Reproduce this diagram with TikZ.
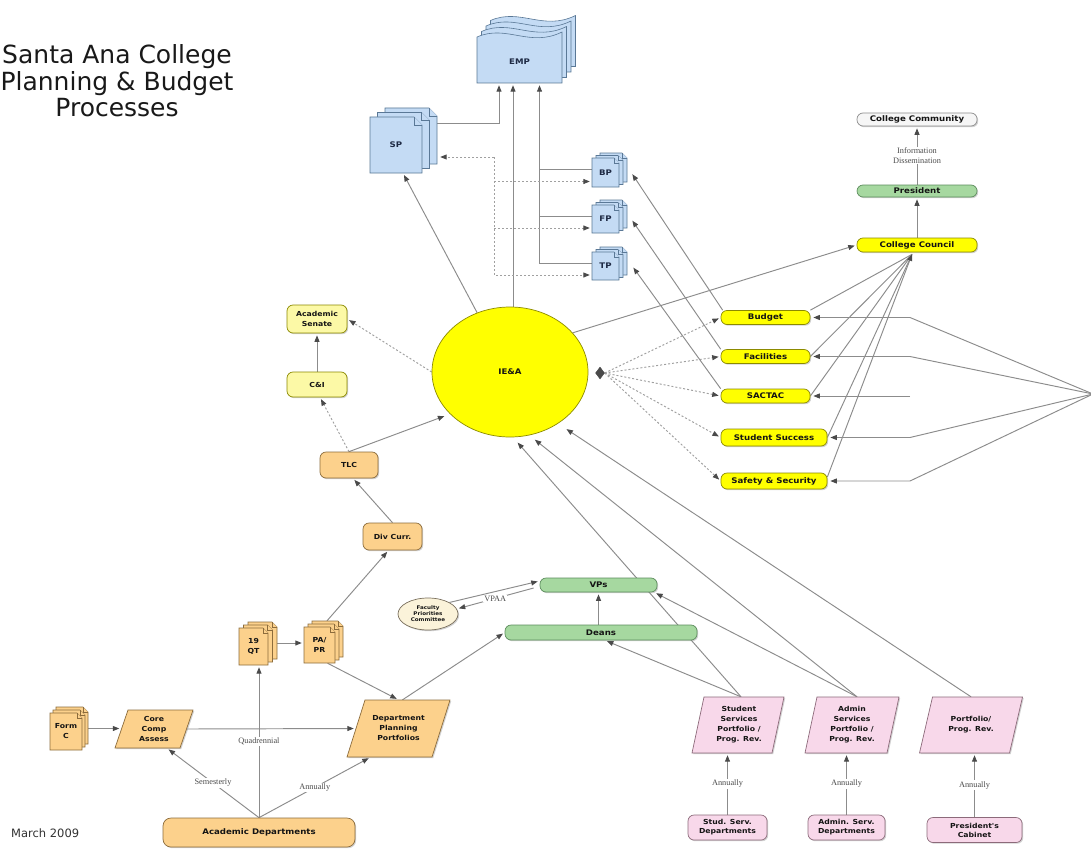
\documentclass[tikz,border=0pt]{standalone}
\usepackage{fontspec}
\setmainfont{DejaVu Sans}
\newfontfamily\boxfont{DejaVu Sans}[FakeStretch=1.12]
\newfontfamily\lblfont{Liberation Serif}
\usetikzlibrary{arrows.meta,shapes.geometric,shadows,calc}
\pgfdeclarelayer{back}
\pgfdeclarelayer{lines}
\pgfsetlayers{back,lines,main}

\definecolor{linec}{HTML}{8C8C8C}
\definecolor{dotc}{HTML}{A0A0A0}
\definecolor{tipc}{HTML}{4A4A4A}
\definecolor{pagefill}{HTML}{C4DBF4}
\definecolor{pageline}{HTML}{5A7896}
\definecolor{navy}{HTML}{1E2A44}
\definecolor{ylw}{HTML}{FFFF00}
\definecolor{ylwline}{HTML}{8C8A00}
\definecolor{lylw}{HTML}{FCF9A6}
\definecolor{org}{HTML}{FCD18C}
\definecolor{orgline}{HTML}{8C6C3C}
\definecolor{grn}{HTML}{A6D8A0}
\definecolor{grnline}{HTML}{5C8C5C}
\definecolor{pnk}{HTML}{F8D8EA}
\definecolor{pnkline}{HTML}{8C6A7A}
\definecolor{crm}{HTML}{FBF3DA}
\definecolor{crmline}{HTML}{7A705E}
\definecolor{wht}{HTML}{F6F6F6}
\definecolor{txt}{HTML}{141414}

% one page with folded corner: x0 ytop x1 ybottom corner style
\newcommand\docpage[6]{%
  \filldraw[#6] (#1,#2) -- ({#3-#5},#2) -- (#3,{#2+#5}) -- (#3,#4) -- (#1,#4) -- cycle;
  \draw[#6] ({#3-#5},#2) -- ({#3-#5},{#2+#5}) -- (#3,{#2+#5});}
% stack: x0 ytop x1 ybottom corner nback dx dy style
\newcommand\docstack[9]{%
  \foreach \k in {#6,...,0}{%
    \pgfmathsetmacro\pxa{#1+#7*\k}\pgfmathsetmacro\pya{#2-#8*\k}%
    \pgfmathsetmacro\pxb{#3+#7*\k}\pgfmathsetmacro\pyb{#4-#8*\k}%
    \docpage{\pxa}{\pya}{\pxb}{\pyb}{#5}{#9}}}
% wavy page: x0 ytop x1 ybottom
\newcommand\wavepage[4]{%
  \pgfmathsetmacro\wwd{#3-#1}%
  \filldraw[bpage] (#1,#4) -- (#1,#2) .. controls ({#1+0.35*\wwd},{#2-13}) and ({#1+0.62*\wwd},{#2+11}) .. (#3,{#2-5}) -- (#3,#4) -- cycle;}
% parallelogram: cx cy w h slant style
\newcommand\paragram[6]{%
  \filldraw[#6] ({#1-#3/2+#5/2},{#2-#4/2}) -- ({#1+#3/2+#5/2},{#2-#4/2}) -- ({#1+#3/2-#5/2},{#2+#4/2}) -- ({#1-#3/2-#5/2},{#2+#4/2}) -- cycle;}

\begin{document}
\begin{tikzpicture}[x=1pt,y=-1pt,
  shad/.style={drop shadow={shadow xshift=1.2pt,shadow yshift=-1.2pt,opacity=0.35}},
  fnorm/.style={font=\boxfont\bfseries\fontsize{7.7}{8.8}\selectfont},
  fmid/.style={font=\boxfont\bfseries\fontsize{6.9}{10}\selectfont},
  ftiny/.style={font=\boxfont\bfseries\fontsize{5}{6}\selectfont},
  rbox/.style={draw, rounded corners=6pt, line width=0.7pt, text=txt, inner sep=1pt, align=center, shad, fnorm},
  ybox/.style={rbox, fill=ylw, draw=ylwline},
  lybox/.style={rbox, fill=lylw, draw=ylwline, fmid},
  obox/.style={rbox, fill=org, draw=orgline},
  gbox/.style={rbox, fill=grn, draw=grnline},
  pbox/.style={rbox, fill=pnk, draw=pnkline, font=\boxfont\bfseries\fontsize{6.9}{9}\selectfont},
  wbox/.style={rbox, fill=wht, draw=black!45},
  bpage/.style={fill=pagefill, draw=pageline, line width=0.6pt},
  opage/.style={fill=org, draw=orgline, line width=0.6pt},
  plabel/.style={inner sep=0, text=navy, fnorm, align=center},
  olabel/.style={inner sep=0, text=txt, fmid, align=center},
  ppara/.style={fill=pnk, draw=pnkline, line width=0.7pt, shad},
  opara/.style={fill=org, draw=orgline, line width=0.7pt, shad},
  ptxt/.style={inner sep=0, align=center, text=txt, fmid},
  conn/.style={draw=linec, line width=0.95pt},
  arr/.style={conn, -{Triangle[length=6.5pt,width=5pt,color=tipc]}, shorten >=2pt},
  darr/.style={arr, draw=dotc, dash pattern=on 2pt off 2pt},
  lbl/.style={font=\lblfont\fontsize{8.3}{10}\selectfont, text=black!70, fill=white, inner sep=1pt, align=center}]

\useasboundingbox (0,0) rectangle (1091,848);
\begin{pgfonlayer}{back}\fill[white] (0,0) rectangle (1091,848);\end{pgfonlayer}

% title and date
\node[font=\fontsize{25}{26.5}\selectfont, text=black!90, align=center, inner sep=0] (title) at (117,81) {Santa Ana College\\Planning \& Budget\\Processes};
\node[anchor=west, font=\fontsize{11.5}{13}\selectfont, text=black!80, inner sep=0] (date) at (11,833) {March 2009};

% EMP
\foreach \k in {3,...,0}{%
  \pgfmathsetmacro\pxa{477+4.5*\k}\pgfmathsetmacro\pya{37-5.5*\k}%
  \pgfmathsetmacro\pxb{562+4.5*\k}\pgfmathsetmacro\pyb{83-5.5*\k}%
  \wavepage{\pxa}{\pya}{\pxb}{\pyb}}
\node[plabel, minimum width=85pt, minimum height=42pt] (emp) at (519.5,62) {EMP};

% page stacks
\docstack{370}{117}{422}{173}{8}{2}{7.5}{4.5}{bpage}
\node[plabel, minimum width=52pt, minimum height=56pt] (sp) at (396,145) {SP};
\docstack{592}{158}{619}{187}{5}{2}{4}{2.5}{bpage}
\node[plabel, minimum width=27pt, minimum height=29pt] (bp) at (605.5,172.5) {BP};
\docstack{592}{205}{619}{233}{5}{2}{4}{2.5}{bpage}
\node[plabel, minimum width=27pt, minimum height=28pt] (fp) at (605.5,219) {FP};
\docstack{592}{252}{619}{280}{5}{2}{4}{2.5}{bpage}
\node[plabel, minimum width=27pt, minimum height=28pt] (tp) at (605.5,266) {TP};
\docstack{239}{628}{268}{665}{5}{2}{4.5}{3}{opage}
\node[olabel, minimum width=29pt, minimum height=37pt] (qt) at (253.5,646.5) {19\\QT};
\docstack{304}{627}{335}{663}{5}{2}{4}{3}{opage}
\node[olabel, minimum width=31pt, minimum height=36pt] (papr) at (319.5,645) {PA/\\PR};
\docstack{50}{713}{82}{750}{5}{2}{3}{3}{opage}
\node[olabel, minimum width=32pt, minimum height=37pt] (formc) at (66,731.5) {Form\\C};

% parallelograms
\paragram{154}{729}{65}{38}{13}{opara}
\node[ptxt, minimum width=65pt, minimum height=38pt] (core) at (154,729) {Core\\Comp\\Assess};
\paragram{398.5}{728.5}{85}{57}{18}{opara}
\node[ptxt, minimum width=85pt, minimum height=57pt] (dept) at (398.5,728.5) {Department\\Planning\\Portfolios};
\paragram{738}{725}{80}{56}{12}{ppara}
\node[ptxt, minimum width=80pt, minimum height=56pt] (ssp) at (739,725) {Student\\Services\\Portfolio /\\Prog. Rev.};
\paragram{852}{725}{82}{56}{12}{ppara}
\node[ptxt, minimum width=82pt, minimum height=56pt] (asp) at (852,725) {Admin\\Services\\Portfolio /\\Prog. Rev.};
\paragram{971}{725}{90}{56}{13}{ppara}
\node[ptxt, minimum width=90pt, minimum height=56pt] (ppr) at (971,725) {Portfolio/\\Prog. Rev.};

% rounded boxes
\node[obox, rounded corners=8pt, minimum width=192pt, minimum height=29pt] (acad) at (259,832.5) {Academic Departments};
\node[pbox, minimum width=79pt, minimum height=25pt] (ssd) at (727.5,827.5) {Stud. Serv.\\Departments};
\node[pbox, minimum width=77pt, minimum height=25pt] (asd) at (846.5,827.5) {Admin. Serv.\\Departments};
\node[pbox, minimum width=95pt, minimum height=25pt] (pc) at (974.5,830) {President's\\Cabinet};

\node[obox, fmid, minimum width=58pt, minimum height=26pt] (tlc) at (349,465) {TLC};
\node[obox, fmid, minimum width=59pt, minimum height=27pt] (div) at (392.5,536.5) {Div Curr.};
\node[lybox, minimum width=60pt, minimum height=28pt] (senate) at (317,319) {Academic\\Senate};
\node[lybox, minimum width=60pt, minimum height=25pt] (ci) at (317,384.5) {C\&I};

\node[gbox, minimum width=117pt, minimum height=14pt] (vps) at (598.5,585) {VPs};
\node[gbox, minimum width=192pt, minimum height=15pt] (deans) at (601,632.5) {Deans};
\node[ellipse, draw=crmline, fill=crm, line width=0.7pt, shad, ftiny, text=txt, align=center, inner sep=0, minimum width=60pt, minimum height=32pt] (fpc) at (428,614) {Faculty\\Priorities\\Committee};

\node[ybox, minimum width=89pt, minimum height=14pt] (budget) at (765.5,317.5) {Budget};
\node[ybox, minimum width=89pt, minimum height=14pt] (fac) at (765.5,356.5) {Facilities};
\node[ybox, minimum width=89pt, minimum height=14pt] (sactac) at (765.5,396) {SACTAC};
\node[ybox, minimum width=106pt, minimum height=17pt] (success) at (774,437.5) {Student Success};
\node[ybox, minimum width=106pt, minimum height=16pt] (safety) at (774,481) {Safety \& Security};

\node[ybox, minimum width=120pt, minimum height=14pt] (council) at (917,245) {College Council};
\node[gbox, minimum width=120pt, minimum height=12pt] (pres) at (917,191) {President};
\node[wbox, minimum width=120pt, minimum height=13pt] (comm) at (917,119.5) {College Community};

\node[ellipse, fill=ylw, draw=ylwline, line width=0.7pt, fnorm, text=txt, inner sep=0, minimum width=156pt, minimum height=130pt] (ieaa) at (510,372) {IE\&A};
\node[diamond, fill=tipc, draw=tipc, inner sep=0, minimum width=9pt, minimum height=12pt] (agg) at (600,373) {};

% connectors
\begin{pgfonlayer}{lines}
\coordinate (e1) at ([xshift=-20.5pt]emp.south);
\coordinate (e2) at ([xshift=-6.5pt]emp.south);
\coordinate (e3) at ([xshift=20pt]emp.south);
\draw[arr] ($(sp.north east)+(15,7)$) -| (e1);
\draw[arr] (e2 |- ieaa.north) -- (e2);
\coordinate (bps) at ([yshift=3pt]bp.west);
\coordinate (fps) at ([yshift=3pt]fp.west);
\coordinate (tps) at ([yshift=3pt]tp.west);
\draw[arr] (tps) -| (e3);
\draw[conn] (bps) -- (bps -| e3);
\draw[conn] (fps) -- (fps -| e3);

\coordinate (spd) at ($(sp.east)+(16,12)$);
\coordinate (dtr) at ($(spd)+(56,0)$);
\coordinate (bpd) at ([yshift=-9pt]bp.west);
\coordinate (fpd) at ([yshift=-9pt]fp.west);
\coordinate (tpd) at ([yshift=-9pt]tp.west);
\draw[darr] (dtr) -- (spd);
\draw[darr] (dtr) |- (tpd);
\draw[darr] (dtr |- bpd) -- (bpd);
\draw[darr] (dtr |- fpd) -- (fpd);

\draw[arr] (ieaa.119) -- ([xshift=7pt]sp.south);
\draw[arr] ([xshift=2pt]budget.north west) -- ([xshift=12pt]bp.east);
\draw[arr] (fac.north west) -- ([xshift=12pt]fp.east);
\draw[arr] (sactac.north west) -- ([xshift=13pt]tp.east);
\draw[arr] (ieaa.32) -- (council.west);

\draw[darr] (agg.east) -- (budget.west);
\draw[darr] (agg.east) -- (fac.west);
\draw[darr] (agg.east) -- (sactac.west);
\draw[darr] (agg.east) -- (success.west);
\draw[darr] (agg.east) -- (safety.west);

\coordinate (ccin) at ([xshift=-5pt,yshift=-2pt]council.south);
\draw[conn] (budget.north east) -- (ccin);
\draw[conn] (fac.east) -- (ccin);
\draw[conn] (sactac.east) -- (ccin);
\draw[conn] (success.east) -- (ccin);
\draw[arr, shorten >=0pt] ([yshift=4pt]safety.east) -- (ccin);

\coordinate (ext) at (1093,394);
\coordinate (kx) at (910,0);
\draw[arr, shorten >=3pt] (ext) -- (budget.east -| kx) -- (budget.east);
\draw[arr, shorten >=3pt] (ext) -- (fac.east -| kx) -- (fac.east);
\draw[arr, shorten >=3pt] (sactac.east -| kx) -- (sactac.east);
\draw[arr, shorten >=3pt] (ext) -- (success.east -| kx) -- (success.east);
\draw[arr, shorten >=3pt] (ext) -- (safety.east -| kx) -- (safety.east);

\draw[arr] (council.north) -- (pres.south);
\draw[arr] (pres.north) -- node[lbl]{Information\\Dissemination} (comm.south);

\draw[darr] (ieaa.west) -- (senate.east);
\draw[arr] (ci.north) -- (senate.south);
\draw[darr] (tlc.north) -- ([xshift=3pt]ci.south);
\draw[arr, shorten >=6pt] (tlc.north) -- (ieaa.215);
\draw[arr] (div.north) -- ([xshift=4pt]tlc.south);
\draw[arr] ($(papr.north)+(7.5,-6)$) -- ([xshift=-4pt]div.south);
\coordinate (qtr) at ([xshift=9pt,yshift=3.5pt]qt.east);
\draw[arr] (qtr) -- (qtr -| papr.west);
\draw[arr] (acad.north) -- node[lbl]{Quadrennial} (acad.north |- qt.south);
\draw[arr] (acad.north) -- node[lbl]{Semesterly} ([xshift=13pt]core.south);
\draw[arr] (acad.north) -- node[lbl]{Annually} ([xshift=-28pt]dept.south);
\coordinate (fcr) at ($(formc.east)+(6,-3)$);
\draw[arr] (fcr) -- (fcr -| core.west);
\draw[arr] (core.east) -- (dept.west);
\draw[arr] ([xshift=8pt]papr.south) -- (dept.north);
\draw[arr] ([xshift=4pt]dept.north) -- (deans.west);

\draw[arr] (fpc.north east) -- ([yshift=4pt]vps.west);
\draw[arr] ([xshift=-6pt,yshift=-3pt]vps.west) -- node[lbl]{VPAA} (fpc.10);
\draw[arr] (vps.south |- deans.north) -- (vps.south);

\draw[arr] ([xshift=2pt]ssp.north) -- ([xshift=4pt]deans.south);
\draw[arr, shorten >=7pt] ([xshift=2pt]ssp.north) -- ([xshift=3pt]ieaa.south);
\draw[arr, shorten >=7pt] ([xshift=5pt]asp.north) -- (ieaa.287);
\draw[arr] ([xshift=5pt]asp.north) -- ([xshift=-3pt]vps.south east);
\draw[arr, shorten >=10pt] (ppr.north) -- (ieaa.313);

\draw[arr] (ssd.north) -- node[lbl]{Annually} (ssd.north |- ssp.south);
\draw[arr] (asd.north) -- node[lbl]{Annually} (asd.north |- asp.south);
\draw[arr] (pc.north) -- node[lbl]{Annually} (pc.north |- ppr.south);
\end{pgfonlayer}
\end{tikzpicture}
\end{document}
